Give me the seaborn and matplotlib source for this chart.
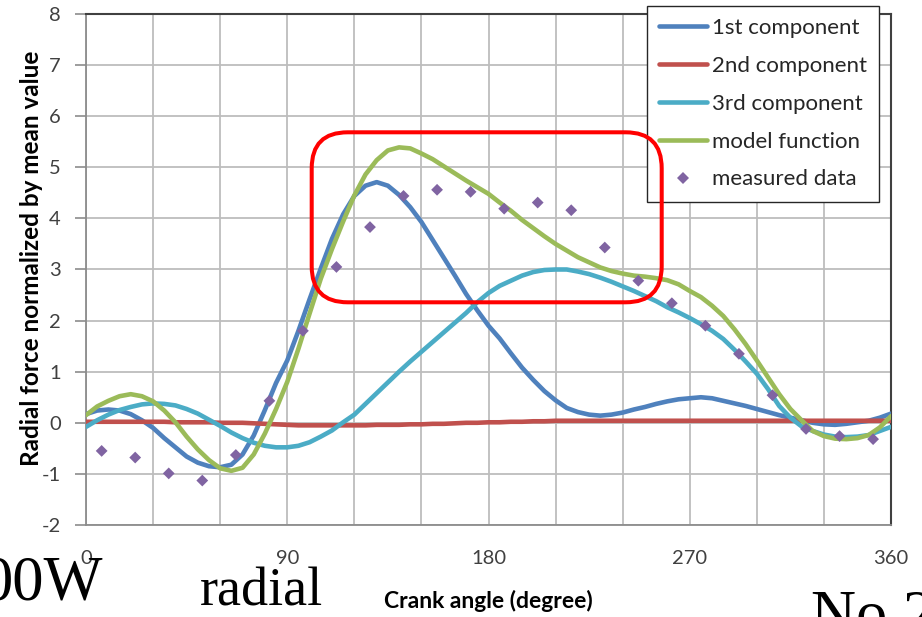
import numpy as np
import pandas as pd
import matplotlib
matplotlib.use("Agg")
import matplotlib.pyplot as plt
import seaborn as sns
from matplotlib.lines import Line2D
from matplotlib.patches import FancyBboxPatch
from matplotlib.transforms import IdentityTransform

# Crank angle grid (degrees) for the fitted curves
angle = list(range(0, 361, 5))

first_component = [
    0.17, 0.24, 0.26, 0.24, 0.17, 0.05, -0.10, -0.30, -0.48, -0.66,
    -0.78, -0.85, -0.87, -0.82, -0.62, -0.25, 0.25, 0.78, 1.22, 1.80,
    2.42, 3.02, 3.60, 4.08, 4.44, 4.64, 4.71, 4.64, 4.46, 4.22,
    3.93, 3.58, 3.23, 2.88, 2.52, 2.20, 1.90, 1.65, 1.36, 1.08,
    0.84, 0.62, 0.44, 0.29, 0.21, 0.16, 0.14, 0.16, 0.20, 0.26,
    0.31, 0.37, 0.42, 0.46, 0.48, 0.50, 0.48, 0.43, 0.38, 0.33,
    0.27, 0.21, 0.15, 0.10, 0.05, 0.00, -0.03, -0.04, -0.02, 0.01,
    0.04, 0.10, 0.18,
]

second_component = [
    0.02, 0.02, 0.02, 0.02, 0.02, 0.02, 0.02, 0.02, 0.01, 0.01,
    0.01, 0.01, 0.00, 0.00, 0.00, -0.01, -0.02, -0.03, -0.04, -0.05,
    -0.05, -0.05, -0.05, -0.05, -0.05, -0.05, -0.04, -0.04, -0.04, -0.03,
    -0.03, -0.02, -0.02, -0.01, 0.00, 0.00, 0.01, 0.01, 0.02, 0.02,
    0.03, 0.03, 0.04, 0.04, 0.04, 0.04, 0.04, 0.04, 0.04, 0.04,
    0.04, 0.04, 0.04, 0.04, 0.04, 0.04, 0.04, 0.04, 0.04, 0.04,
    0.04, 0.04, 0.04, 0.04, 0.04, 0.04, 0.04, 0.04, 0.04, 0.04,
    0.04, 0.04, 0.04,
]

third_component = [
    -0.08, 0.05, 0.16, 0.25, 0.31, 0.36, 0.38, 0.37, 0.34, 0.27,
    0.18, 0.06, -0.06, -0.19, -0.30, -0.39, -0.45, -0.48, -0.48, -0.45,
    -0.38, -0.27, -0.15, 0.01, 0.16, 0.37, 0.58, 0.79, 1.00, 1.20,
    1.39, 1.58, 1.77, 1.96, 2.15, 2.36, 2.54, 2.68, 2.78, 2.88,
    2.95, 2.99, 3.00, 3.00, 2.96, 2.91, 2.84, 2.76, 2.67, 2.58,
    2.48, 2.38, 2.26, 2.16, 2.05, 1.93, 1.80, 1.64, 1.43, 1.20,
    0.96, 0.66, 0.33, 0.10, -0.07, -0.16, -0.23, -0.27, -0.28, -0.27,
    -0.24, -0.16, -0.08,
]

model_function = [
    0.15, 0.32, 0.43, 0.52, 0.56, 0.52, 0.42, 0.24, 0.01, -0.27,
    -0.52, -0.73, -0.89, -0.94, -0.88, -0.62, -0.21, 0.27, 0.80, 1.45,
    2.14, 2.82, 3.40, 3.94, 4.45, 4.86, 5.14, 5.33, 5.39, 5.37,
    5.27, 5.16, 5.02, 4.88, 4.74, 4.61, 4.48, 4.31, 4.15, 3.97,
    3.81, 3.65, 3.50, 3.37, 3.24, 3.14, 3.04, 2.97, 2.92, 2.88,
    2.86, 2.83, 2.79, 2.71, 2.58, 2.46, 2.29, 2.09, 1.83, 1.54,
    1.22, 0.89, 0.56, 0.27, 0.05, -0.16, -0.26, -0.31, -0.32, -0.30,
    -0.24, -0.09, 0.13,
]

# Measured radial force samples
measured_angle = [7, 22, 37, 52, 67, 82, 97, 112, 127, 142, 157, 172,
                  187, 202, 217, 232, 247, 262, 277, 292, 307, 322, 337, 352]
measured_value = [-0.55, -0.68, -0.99, -1.13, -0.63, 0.43, 1.80, 3.05, 3.83, 4.44,
                  4.56, 4.52, 4.19, 4.31, 4.16, 3.43, 2.78, 2.34, 1.90, 1.35,
                  0.54, -0.12, -0.26, -0.32]

series_labels = ["1st component", "2nd component", "3rd component",
                 "model function", "measured data"]
series_colors = ["#4F81BD", "#C0504D", "#4BACC6", "#9BBB59", "#8064A2"]

x_ticks = [0, 90, 180, 270, 360]
y_ticks = list(range(-2, 9))

sns.set_theme(style="white")
plt.rcParams["font.family"] = ["Lato", "DejaVu Sans"]

W, H, DPI = 922, 617, 100
fig = plt.figure(figsize=(W / DPI, H / DPI), dpi=DPI)
fig.patch.set_facecolor("white")
ax = fig.add_axes([86 / W, 1 - 525 / H, (891 - 86) / W, (525 - 14) / H])

curves = pd.DataFrame({
    "angle": angle,
    series_labels[0]: first_component,
    series_labels[1]: second_component,
    series_labels[2]: third_component,
    series_labels[3]: model_function,
})

line_w = 3.3
for i, name in enumerate(series_labels[:4]):
    sns.lineplot(data=curves, x="angle", y=name, color=series_colors[i],
                 linewidth=line_w, ax=ax, legend=False, zorder=3 + i * 0.1)

sns.scatterplot(x=measured_angle, y=measured_value, marker="D", s=36,
                color=series_colors[4], edgecolor="none", linewidth=0,
                ax=ax, legend=False, zorder=5)

ax.set_xlim(0, 360)
ax.set_ylim(-2, 8)
ax.set_xticks(x_ticks)
ax.set_xticklabels([str(t) for t in x_ticks])
ax.set_xticks(list(range(0, 361, 30)), minor=True)
ax.set_yticks(y_ticks)
ax.set_yticklabels([str(t) for t in y_ticks])
ax.grid(True, which="both", color="#BDBDBD", linewidth=1.3)
ax.set_axisbelow(True)

ax.tick_params(axis="x", which="both", length=0, pad=18, labelsize=14.5,
               labelcolor="#404040")
ax.tick_params(axis="y", which="major", left=True, length=8, width=1.2,
               color="#8C8C8C", pad=10, labelsize=14.5, labelcolor="#404040")

for side in ["left", "bottom"]:
    ax.spines[side].set_color("#8C8C8C")
    ax.spines[side].set_linewidth(1.3)
for side in ["top", "right"]:
    ax.spines[side].set_color("#404040")
    ax.spines[side].set_linewidth(1.5)

ax.set_xlabel("Crank angle (degree)", fontsize=16.5, fontweight="bold",
              color="black")
ax.set_ylabel("Radial force normalized by mean value", fontsize=17.5,
              fontweight="bold", color="black")
ax.xaxis.set_label_coords(0.5, -0.128)
ax.yaxis.set_label_coords(-0.054, 0.522)

handles = [Line2D([0], [0], color=c, lw=line_w) for c in series_colors[:4]]
handles.append(Line2D([0], [0], color=series_colors[4], lw=0, marker="D",
                      markersize=5.8, markeredgewidth=0))
leg = ax.legend(handles, series_labels, loc="upper left",
                bbox_to_anchor=(647 / W, 1 - 6 / H), bbox_transform=fig.transFigure,
                fontsize=16, frameon=True, fancybox=False, framealpha=1,
                facecolor="white", edgecolor="#262626", borderpad=0.55,
                labelspacing=0.8, handlelength=2.15, handletextpad=0.22,
                borderaxespad=0)
leg.get_frame().set_linewidth(1.0)
leg.set_zorder(10)

# Highlight of the peak region
box = FancyBboxPatch((311.7, H - 302.3), 350, 170,
                     boxstyle="round,pad=0,rounding_size=36",
                     transform=IdentityTransform(), fill=False,
                     edgecolor="#FF0000", linewidth=2.9, zorder=20)
fig.add_artist(box)

serif = ["Liberation Serif", "DejaVu Serif"]
fig.text(-18 / W, 1 - 600 / H, "00W", family=serif, fontsize=45,
         color="black", va="baseline", ha="left")
fig.text(200 / W, 1 - 605 / H, "radial", family=serif, fontsize=39,
         color="black", va="baseline", ha="left")
fig.text(811 / W, 1 - 634 / H, "No 2", family=serif, fontsize=45,
         color="black", va="baseline", ha="left")

fig.savefig("out.png", dpi=DPI)
